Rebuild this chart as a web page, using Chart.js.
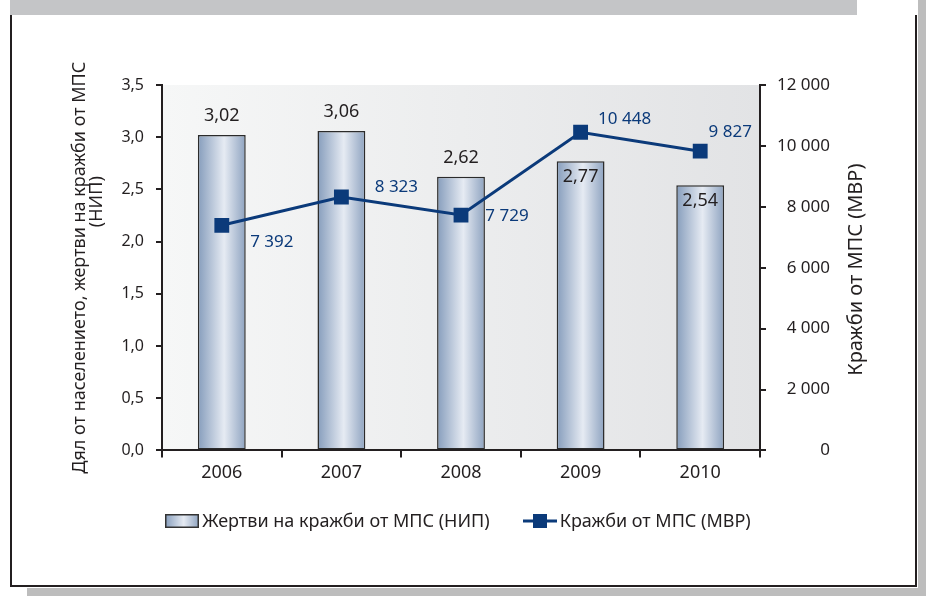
<!DOCTYPE html>
<html>
<head>
<meta charset="utf-8">
<script src="https://cdn.jsdelivr.net/npm/chart.js@4.4.0/dist/chart.umd.min.js"></script>
<style>
  html, body { margin: 0; padding: 0; background: #ffffff; }
  #page { position: relative; width: 926px; height: 596px; overflow: hidden; }
  .shadow { position: absolute; background: #bdbdbd; }
  .topbar { position: absolute; left: 10px; top: 0; width: 847px; height: 15px; background: #c4c5c7; }
  .frame { position: absolute; left: 10px; top: 15px; width: 903px; height: 570px;
           border-left: 2px solid #231f20; border-right: 2px solid #231f20; border-bottom: 2px solid #231f20; border-top: none; }
  #wrap { position: absolute; left: 0; top: 0; width: 926px; height: 596px; }
</style>
</head>
<body>
<div id="page">
  <div class="shadow" style="left:918px; top:0; width:8px; height:596px;"></div>
  <div class="shadow" style="left:27px; top:588px; width:899px; height:8px;"></div>
  <div class="topbar"></div>
  <div class="frame"></div>
  <div id="wrap"><canvas id="chart"></canvas></div>
</div>
<script>
// Данни
const godini = ['2006', '2007', '2008', '2009', '2010'];
const zhertvi = [3.02, 3.06, 2.62, 2.77, 2.54];       // дял от населението (НИП)
const krazhbi = [7392, 8323, 7729, 10448, 9827];      // кражби от МПС (МВР)
const zhertviEtiketi = ['3,02', '3,06', '2,62', '2,77', '2,54'];
const krazhbiEtiketi = ['7 392', '8 323', '7 729', '10 448', '9 827'];
const lqviTikove = ['0,0', '0,5', '1,0', '1,5', '2,0', '2,5', '3,0', '3,5'];
const dqsniTikove = ['0', '2 000', '4 000', '6 000', '8 000', '10 000', '12 000'];
const lqvoZaglavie = ['Дял от населението, жертви на кражби от МПС', '(НИП)'];
const dqsnoZaglavie = 'Кражби от МПС (МВР)';

const FONT = "'Noto Sans', 'DejaVu Sans', sans-serif";
const TEXT = '#231f20';
const NAVY = '#0b3a7a';

Chart.defaults.font.family = FONT;
Chart.defaults.color = TEXT;

// градиент за стълбовете (хоризонтален)
function barGradient(ctx, x0, x1) {
    const g = ctx.createLinearGradient(x0, 0, x1, 0);
    g.addColorStop(0, '#869dbc');
    g.addColorStop(0.55, '#e6ebf3');
    g.addColorStop(1, '#8ea3c0');
    return g;
}

// иконки за легендата
function legendBarIcon() {
    const c = document.createElement('canvas');
    c.width = 34; c.height = 14;
    const x = c.getContext('2d');
    x.fillStyle = barGradient(x, 0, 34);
    x.fillRect(0, 0, 34, 14);
    x.strokeStyle = '#333';
    x.lineWidth = 1.5;
    x.strokeRect(0.75, 0.75, 32.5, 12.5);
    return c;
}
function legendLineIcon() {
    const c = document.createElement('canvas');
    c.width = 34; c.height = 14;
    const x = c.getContext('2d');
    x.strokeStyle = NAVY;
    x.lineWidth = 3;
    x.beginPath(); x.moveTo(0, 7); x.lineTo(34, 7); x.stroke();
    x.fillStyle = NAVY;
    x.fillRect(10, 0, 14, 14);
    return c;
}

// фон на графичната област
const plotBackground = {
    id: 'plotBackground',
    beforeDraw(chart) {
        const { ctx, chartArea: a } = chart;
        if (!a || !isFinite(a.left) || !isFinite(a.right)) return;
        const g = ctx.createLinearGradient(a.left, 0, a.right, 0);
        g.addColorStop(0, '#f6f7f7');
        g.addColorStop(1, '#e2e3e5');
        ctx.save();
        ctx.fillStyle = g;
        ctx.fillRect(a.left, a.top, a.right - a.left, a.bottom - a.top);
        ctx.restore();
    }
};

// етикети на стойностите, заглавия на осите и легенда
const valueLabels = {
    id: 'valueLabels',
    afterDatasetsDraw(chart) {
        const ctx = chart.ctx;
        const a = chart.chartArea;
        const midY = (a.top + a.bottom) / 2;
        ctx.save();
        ctx.textAlign = 'center';
        ctx.textBaseline = 'middle';

        ctx.font = '18px ' + FONT;
        ctx.fillStyle = TEXT;
        const barInside = [false, false, false, true, true];
        chart.getDatasetMeta(0).data.forEach((el, i) => {
            const y = barInside[i] ? el.y + 16 : el.y - 19;
            ctx.fillText(zhertviEtiketi[i], el.x, y);
        });

        ctx.font = '17px ' + FONT;
        ctx.fillStyle = NAVY;
        const shift = [[50, 17], [55, -10], [46, 1], [44, -13], [30, -19]];
        chart.getDatasetMeta(1).data.forEach((el, i) => {
            ctx.fillText(krazhbiEtiketi[i], el.x + shift[i][0], el.y + shift[i][1]);
        });

        // лява ос (чете се отдолу нагоре)
        ctx.fillStyle = TEXT;
        ctx.font = '18px ' + FONT;
        ctx.save();
        ctx.translate(80, midY);
        ctx.rotate(-Math.PI / 2);
        ctx.fillText(lqvoZaglavie[0], 0, 0);
        ctx.fillText(lqvoZaglavie[1], 66, 17);
        ctx.restore();

        // дясна ос
        const ys = chart.scales.y1;
        ctx.save();
        ctx.translate(ys.right + 26, midY + 2);
        ctx.rotate(-Math.PI / 2);
        ctx.font = '20px ' + FONT;
        ctx.fillText(dqsnoZaglavie, 0, 0);
        ctx.restore();

        // легенда
        const items = chart.data.datasets.map((ds, i) => ({
            text: ds.label,
            icon: i === 0 ? legendBarIcon() : legendLineIcon()
        }));
        ctx.font = '18px ' + FONT;
        ctx.textAlign = 'left';
        const gapIcon = 3, gapItem = 33;
        const widths = items.map(it => it.icon.width + gapIcon + ctx.measureText(it.text).width);
        const total = widths.reduce((s, w) => s + w, 0) + gapItem * (items.length - 1);
        let lx = 458 - total / 2;
        const ly = a.bottom + 71;
        items.forEach((it, i) => {
            ctx.drawImage(it.icon, Math.round(lx), Math.round(ly - it.icon.height / 2));
            ctx.fillText(it.text, lx + it.icon.width + gapIcon, ly);
            lx += widths[i] + gapItem;
        });
        ctx.restore();
    }
};

const ctx = document.getElementById('chart').getContext('2d');
new Chart(ctx, {
    type: 'bar',
    data: {
        labels: godini,
        datasets: [{
            type: 'bar',
            label: 'Жертви на кражби от МПС (НИП)',
            data: zhertvi,
            yAxisID: 'y',
            order: 1,
            backgroundColor: function(context) {
                const chart = context.chart;
                const xs = chart.scales.x;
                if (!xs || context.dataIndex === undefined) return '#c0cbdb';
                const cx = xs.getPixelForValue(context.dataIndex);
                const w = xs.width / godini.length * 0.4;
                if (!isFinite(cx) || !isFinite(w) || w <= 0) return '#c0cbdb';
                return barGradient(chart.ctx, cx - w / 2, cx + w / 2);
            },
            borderColor: '#2b2b2b',
            borderWidth: 1.5,
            borderSkipped: false,
            categoryPercentage: 0.8,
            barPercentage: 0.5
        }, {
            type: 'line',
            label: 'Кражби от МПС (МВР)',
            data: krazhbi,
            yAxisID: 'y1',
            order: 0,
            borderColor: NAVY,
            backgroundColor: NAVY,
            borderWidth: 3,
            tension: 0,
            pointStyle: 'rect',
            pointRadius: 10.5,
            pointBorderWidth: 0,
            pointBackgroundColor: NAVY
        }]
    },
    options: {
        responsive: true,
        maintainAspectRatio: false,
        animation: false,
        layout: { padding: { left: 86, right: 96, top: 85, bottom: 107 } },
        plugins: {
            tooltip: { enabled: false },
            legend: { display: false }
        },
        scales: {
            x: {
                offset: true,
                grid: { display: true, drawOnChartArea: false, offset: true, color: TEXT, lineWidth: 2, tickLength: 7 },
                border: { color: TEXT, width: 2 },
                ticks: { color: TEXT, font: { size: 18 }, padding: 5 }
            },
            y: {
                position: 'left',
                min: 0,
                max: 3.5,
                ticks: {
                    stepSize: 0.5,
                    color: TEXT,
                    font: { size: 16 },
                    padding: 12,
                    callback: function(v, i) { return lqviTikove[i]; }
                },
                grid: { drawOnChartArea: false, color: TEXT, lineWidth: 2, tickLength: 6 },
                border: { color: TEXT, width: 2 },
                afterFit: function(scale) { scale.width = 76; }
            },
            y1: {
                position: 'right',
                min: 0,
                max: 12000,
                ticks: {
                    stepSize: 2000,
                    color: TEXT,
                    font: { size: 17 },
                    padding: 5,
                    crossAlign: 'far',
                    callback: function(v, i) { return dqsniTikove[i]; }
                },
                grid: { drawOnChartArea: false, color: TEXT, lineWidth: 2, tickLength: 6 },
                border: { color: TEXT, width: 2 },
                afterFit: function(scale) { scale.width = 70; }
            }
        }
    },
    plugins: [plotBackground, valueLabels]
});
</script>
</body>
</html>
